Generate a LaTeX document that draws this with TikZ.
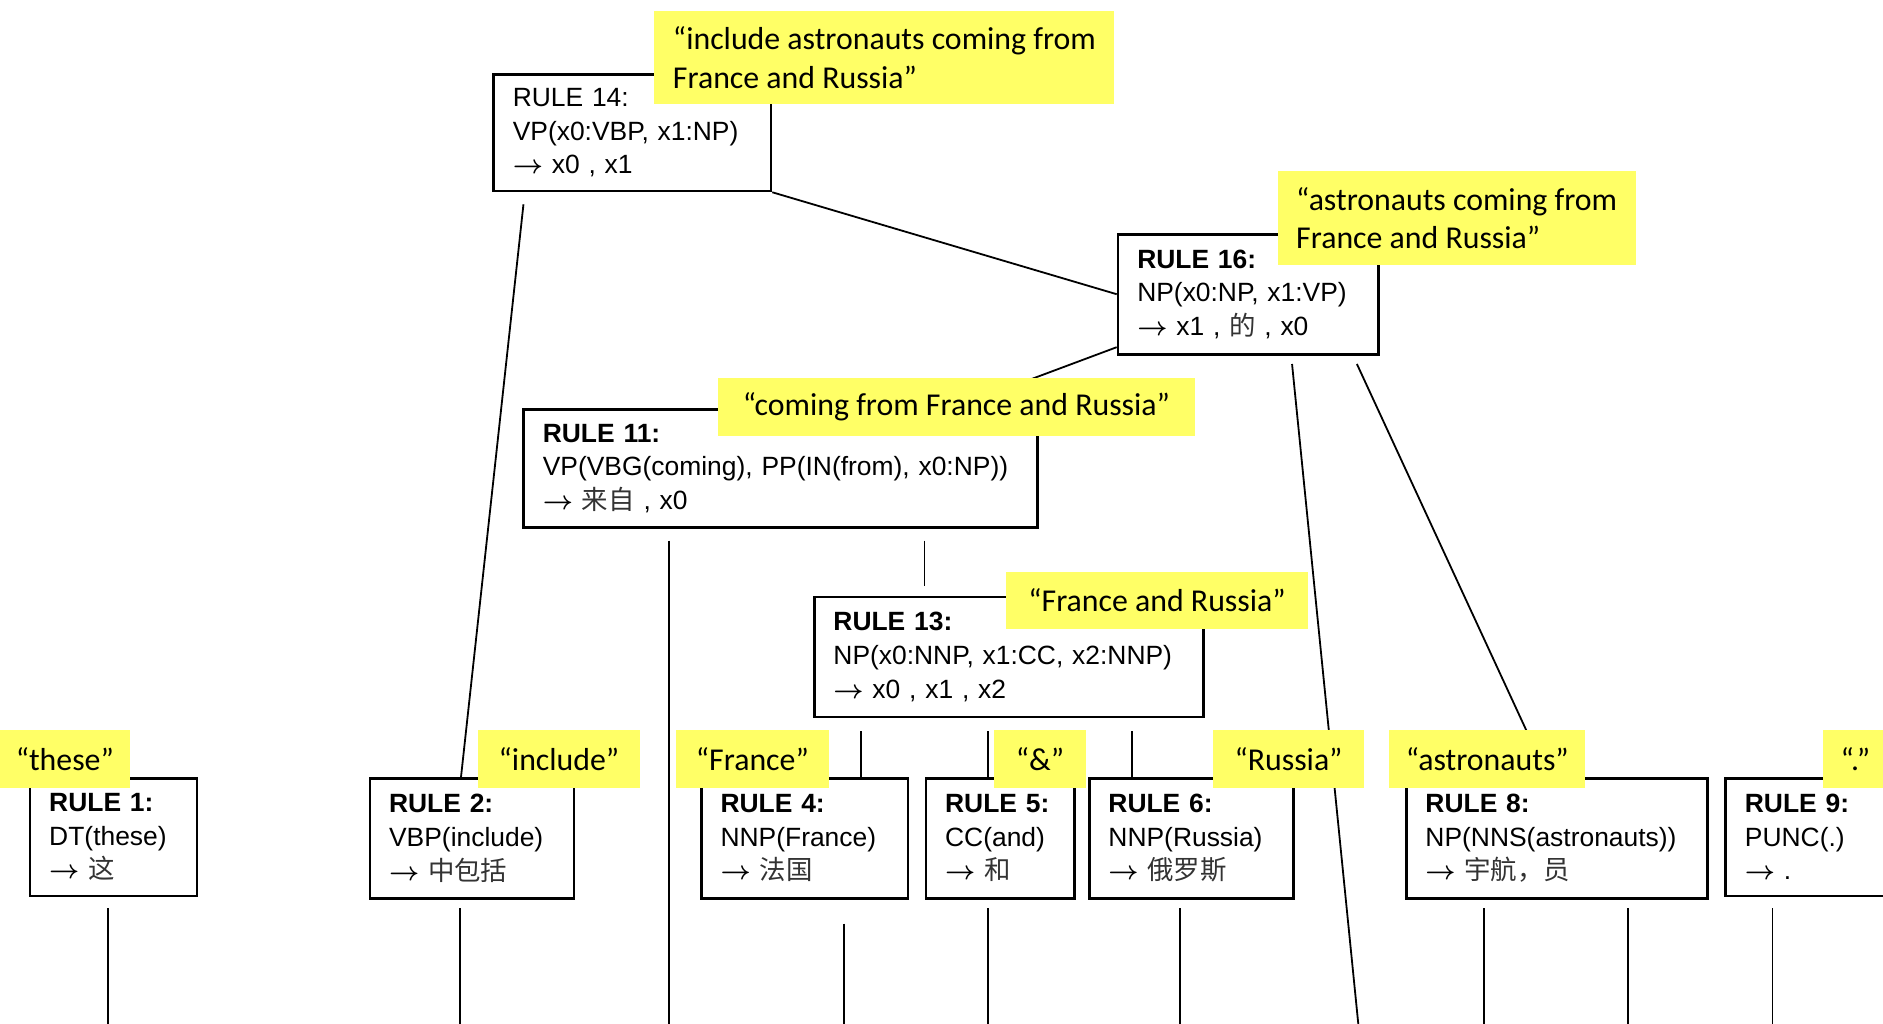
\documentclass[tikz,border=0pt]{standalone}
\usepackage{fontspec}
\setmainfont{Liberation Sans}
\newfontfamily\labelfont{Carlito}
\newfontfamily\cjkfont{Noto Sans CJK SC}
\definecolor{hiyellow}{RGB}{255,255,102}
\newcommand\goesto{{\boldmath$\rightarrow$}\ }
\newcommand\cjk{\cjkfont\color{black!80}}
\tikzset{
  rulebox/.style={draw, line width=1.1pt, inner xsep=8pt, inner ysep=0pt, align=left,
    font=\fontsize{11}{14}\selectfont},
  gloss/.style={fill=hiyellow, inner sep=0pt, align=left, minimum height=24pt,
    font=\labelfont\fontsize{13.25}{16}\selectfont},
  wire/.style={line width=0.75pt},
}
\begin{document}
\begin{tikzpicture}[x=0.5pt,y=-0.5pt]
\useasboundingbox (0,0) rectangle (1568,852);
\clip (0,0) rectangle (1568,852);
\coordinate (bottom) at (0,870);

% rule boxes
\node[rulebox, minimum width=115.5pt, text width=99.5pt, minimum height=48.5pt] (r14) at (526.5,110.5)
  {RULE 14:\\VP(x0:VBP,~x1:NP)\\\goesto x0~,~x1};
\node[rulebox, minimum width=108.5pt, text width=92.5pt, minimum height=50pt] (r16) at (1039.5,245)
  {\textbf{RULE 16:}\\NP(x0:NP,~x1:VP)\\\goesto x1~,~{\cjk 的}~,~x0};
\node[rulebox, minimum width=214pt, text width=198pt, minimum height=49pt] (r11) at (650,390)
  {\textbf{RULE 11:}\\VP(VBG(coming),~PP(IN(from),~x0:NP))\\\goesto {\cjk 来自}~,~x0};
\node[rulebox, minimum width=162pt, text width=146pt, minimum height=50pt] (r13) at (840,547)
  {\textbf{RULE 13:}\\NP(x0:NNP,~x1:CC,~x2:NNP)\\\goesto x0~,~x1~,~x2};
\node[rulebox, minimum width=69.5pt, text width=53.5pt, minimum height=49pt] (r1) at (94.5,697)
  {\textbf{RULE 1:}\\DT(these)\\\goesto {\cjk 这}};
\node[rulebox, minimum width=85pt, text width=69pt, minimum height=50pt] (r2) at (393,698)
  {\textbf{RULE 2:}\\VBP(include)\\\goesto {\cjk 中包括}};
\node[rulebox, minimum width=86pt, text width=70pt, minimum height=50pt] (r4) at (670,698)
  {\textbf{RULE 4:}\\NNP(France)\\\goesto {\cjk 法国}};
\node[rulebox, minimum width=62pt, text width=46pt, minimum height=50pt] (r5) at (833,698)
  {\textbf{RULE 5:}\\CC(and)\\\goesto {\cjk 和}};
\node[rulebox, minimum width=85pt, text width=69pt, minimum height=50pt] (r6) at (992,698)
  {\textbf{RULE 6:}\\NNP(Russia)\\\goesto {\cjk 俄罗斯}};
\node[rulebox, minimum width=125.5pt, text width=109.5pt, minimum height=50pt] (r8) at (1296.5,698)
  {\textbf{RULE 8:}\\NP(NNS(astronauts))\\\goesto {\cjk 宇航，员}};
\node[rulebox, minimum width=76.5pt, text width=60.5pt, minimum height=49pt] (r9) at (1513.5,697)
  {\textbf{RULE 9:}\\PUNC(.)\\\goesto .};

% tree connectors
\coordinate (tailA) at (1132,862);
\draw[wire] (r14.south east) -- (r16.west);
\draw[wire] ([shift={(26,10)}]r14.south west) -- ([shift={(77,0)}]r2.north west);
\draw[wire] ([shift={(0,-7)}]r16.south west) -- ([shift={(359,0)}]r11.north west);
\draw[wire] ([shift={(146,7)}]r16.south west) -- (tailA);
\draw[wire] ([shift={(200,7)}]r16.south west) -- ([shift={(119,0)}]r8.north west);
\draw[wire] ([shift={(335,10)}]r11.south west) -- ([shift={(93,-8)}]r13.north west);
\draw[wire] ([shift={(40,11)}]r13.south west) -- ([shift={(134,0)}]r4.north west);
\draw[wire] ([shift={(146,11)}]r13.south west) -- ([shift={(53,0)}]r5.north west);
\draw[wire] ([shift={(266,11)}]r13.south west) -- ([shift={(37,0)}]r6.north west);

% lines running down to the words below
\coordinate (s11) at ([shift={(122,10)}]r11.south west);
\coordinate (s1) at ([shift={(66,9)}]r1.south west);
\coordinate (s2) at ([shift={(76,7)}]r2.south west);
\coordinate (s4) at ([shift={(120,20)}]r4.south west);
\coordinate (s5) at ([shift={(53,7)}]r5.south west);
\coordinate (s6) at ([shift={(77,7)}]r6.south west);
\coordinate (s8a) at ([shift={(66,7)}]r8.south west);
\coordinate (s8b) at ([shift={(186,7)}]r8.south west);
\coordinate (s9) at ([shift={(40,9)}]r9.south west);
\foreach \s in {s11,s1,s2,s4,s5,s6,s8a,s8b,s9}
  \draw[wire] (\s) -- (\s |- bottom);

% yellow glosses
\node[gloss, minimum width=191.5pt, minimum height=39pt] (g14) at (736.5,48)
  {“include astronauts coming from\\France and Russia”};
\node[gloss, minimum width=149pt, minimum height=39.5pt] (g16) at (1213,181.5)
  {“astronauts coming from\\France and Russia”};
\node[gloss, minimum width=198.5pt] (g11) at (796.5,339) {“coming from France and Russia”};
\node[gloss, minimum width=125.5pt] (g13) at (963.5,500) {“France and Russia”};
\node[gloss, minimum width=54pt] (g1) at (54,632) {“these”};
\node[gloss, minimum width=67.5pt] (g2) at (465.5,632) {“include”};
\node[gloss, minimum width=63.5pt] (g4) at (626.5,632) {“France”};
\node[gloss, minimum width=38pt] (g5) at (866,632) {“\&”};
\node[gloss, minimum width=63pt] (g6) at (1073,632) {“Russia”};
\node[gloss, minimum width=81.5pt] (g8) at (1238.5,632) {“astronauts”};
\node[gloss, minimum width=27pt] (g9) at (1545,632) {“.”};
\end{tikzpicture}
\end{document}
